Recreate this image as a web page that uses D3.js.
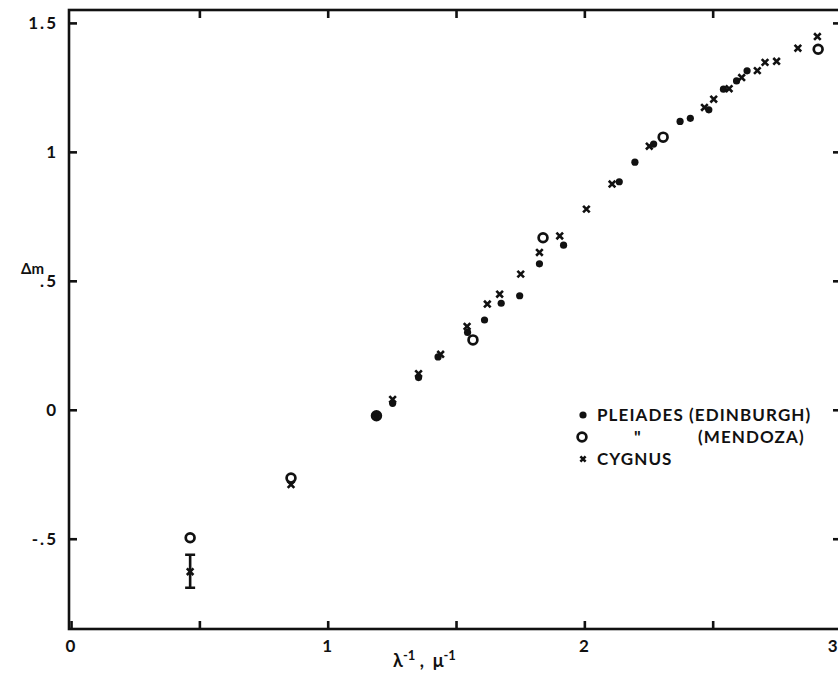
<!DOCTYPE html>
<html>
<head>
<meta charset="utf-8">
<script src="https://cdn.jsdelivr.net/npm/d3@7"></script>
<style>
  html, body { margin: 0; padding: 0; background: #fff; }
  svg { display: block; }
  text { font-family: Lato, "Open Sans", sans-serif; font-weight: 700; fill: #111; }
</style>
</head>
<body>
<svg id="chart" width="838" height="673"></svg>
<script>
// Pleiades, Edinburgh photometry (filled dots)
const edinburghX = [1.19, 1.253, 1.354, 1.43, 1.545, 1.611, 1.676, 1.748, 1.825, 1.919, 2.136, 2.197, 2.27, 2.373, 2.413, 2.485, 2.542, 2.593, 2.634];
const edinburghY = [-0.023, 0.025, 0.125, 0.205, 0.30, 0.348, 0.413, 0.442, 0.566, 0.638, 0.884, 0.96, 1.03, 1.118, 1.13, 1.163, 1.243, 1.275, 1.314];

// Pleiades, Mendoza photometry (open circles)
const mendozaX = [0.464, 0.857, 1.19, 1.566, 1.839, 2.307, 2.911];
const mendozaY = [-0.496, -0.265, -0.023, 0.271, 0.667, 1.057, 1.398];

// Cygnus (crosses)
const cygnusX = [0.464, 0.857, 1.253, 1.354, 1.44, 1.543, 1.622, 1.67, 1.752, 1.825, 1.904, 2.008, 2.108, 2.253, 2.468, 2.504, 2.564, 2.613, 2.674, 2.704, 2.749, 2.832, 2.908];
const cygnusY = [-0.628, -0.29, 0.04, 0.14, 0.215, 0.323, 0.41, 0.448, 0.526, 0.61, 0.674, 0.778, 0.875, 1.022, 1.172, 1.204, 1.245, 1.288, 1.315, 1.347, 1.351, 1.402, 1.447];

// Uncertainty on the shortest-wavenumber Cygnus point
const cygnusErrX = [0.464];
const cygnusErrLow = [-0.69];
const cygnusErrHigh = [-0.562];

const xTickValues = [0, 0.5, 1, 1.5, 2, 2.5, 3];
const xTickLabels = ["0", "", "1", "", "2", "", "3"];
const yTickValues = [-0.5, 0, 0.5, 1, 1.5];
const yTickLabels = ["-.5", "0", ".5", "1", "1.5"];

const legendLabels = ["PLEIADES (EDINBURGH)", "\"", "(MENDOZA)", "CYGNUS"];
const xTitle = ["λ", "-1", " ,  μ", "-1"];
const yTitle = "Δm";

const svg = d3.select("#chart");

const x = d3.scaleLinear().domain([-0.008, 3.0]).range([69, 841]);
const y = d3.scaleLinear().domain([-0.85, 1.55]).range([629, 10]);

const ink = "#111";
const axisW = 2.6;

// Frame
svg.append("rect")
  .attr("x", x.range()[0]).attr("y", y.range()[1])
  .attr("width", x.range()[1] - x.range()[0])
  .attr("height", y.range()[0] - y.range()[1])
  .attr("fill", "none").attr("stroke", ink).attr("stroke-width", axisW);

// Inward ticks on all four sides, labels on left and bottom
const tickLen = 8;
const xLabel = d => xTickLabels[xTickValues.indexOf(d)];
const yLabel = d => yTickLabels[yTickValues.indexOf(d)];

const axisBottomG = svg.append("g").attr("transform", `translate(0,${y.range()[0]})`)
  .call(d3.axisBottom(x).tickValues(xTickValues).tickFormat(xLabel).tickSizeInner(-tickLen).tickSizeOuter(0).tickPadding(9));
const axisTopG = svg.append("g").attr("transform", `translate(0,${y.range()[1]})`)
  .call(d3.axisTop(x).tickValues(xTickValues.filter(v => v > 0)).tickFormat("").tickSizeInner(-tickLen).tickSizeOuter(0));
const axisLeftG = svg.append("g").attr("transform", `translate(${x.range()[0]},0)`)
  .call(d3.axisLeft(y).tickValues(yTickValues).tickFormat(yLabel).tickSizeInner(-tickLen).tickSizeOuter(0).tickPadding(11));
const axisRightG = svg.append("g").attr("transform", `translate(${x.range()[1]},0)`)
  .call(d3.axisRight(y).tickValues(yTickValues).tickFormat("").tickSizeInner(-tickLen).tickSizeOuter(0));

[axisBottomG, axisTopG, axisLeftG, axisRightG].forEach(g => {
  g.select(".domain").remove();
  g.selectAll(".tick line").attr("stroke", ink).attr("stroke-width", 2.6);
  g.selectAll(".tick text").style("font-size", "17px").style("letter-spacing", "2px").attr("fill", ink);
});
axisBottomG.selectAll(".tick text").attr("dy", "0.85em");
// The last label sits at the page edge; pull it in so it stays readable
axisBottomG.selectAll(".tick text").filter(d => d === 3).attr("text-anchor", "end").attr("x", -2);

// Axis titles
const xt = svg.append("text").attr("x", 393).attr("y", 667).style("font-size", "18px").attr("xml:space", "preserve");
xt.append("tspan").text(xTitle[0]);
xt.append("tspan").attr("dy", -7).style("font-size", "13px").text(xTitle[1]);
xt.append("tspan").attr("dy", 7).text(xTitle[2]);
xt.append("tspan").attr("dy", -7).style("font-size", "13px").text(xTitle[3]);

svg.append("text").attr("x", 21).attr("y", 274).style("font-size", "15px").text(yTitle);

// Marker painters
const dotR = 3.6;
function dot(g, cx, cy) {
  g.append("circle").attr("cx", cx).attr("cy", cy).attr("r", dotR).attr("fill", ink);
}
function ring(g, cx, cy) {
  g.append("circle").attr("cx", cx).attr("cy", cy).attr("r", 4.4)
    .attr("fill", "none").attr("stroke", ink).attr("stroke-width", 2.7);
}
function cross(g, cx, cy, s = 3.3) {
  g.append("path")
    .attr("d", `M${cx - s},${cy - s}L${cx + s},${cy + s}M${cx + s},${cy - s}L${cx - s},${cy + s}`)
    .attr("stroke", ink).attr("stroke-width", 2.6).attr("fill", "none");
}

const marks = svg.append("g");

// Error bar
cygnusErrX.forEach((v, i) => {
  const cx = x(v), y0 = y(cygnusErrLow[i]), y1 = y(cygnusErrHigh[i]);
  marks.append("path")
    .attr("d", `M${cx},${y0}L${cx},${y1}M${cx - 5},${y0}L${cx + 5},${y0}M${cx - 5},${y1}L${cx + 5},${y1}`)
    .attr("stroke", ink).attr("stroke-width", 2.6).attr("fill", "none");
});

mendozaX.forEach((v, i) => ring(marks, x(v), y(mendozaY[i])));
edinburghX.forEach((v, i) => dot(marks, x(v), y(edinburghY[i])));
cygnusX.forEach((v, i) => cross(marks, x(v), y(cygnusY[i])));

// Legend
const lg = svg.append("g");
const lx = 583, ly = [415, 437, 459];
dot(lg, lx, ly[0]);
ring(lg, lx - 1, ly[1]);
cross(lg, lx, ly[2], 2.6);
const fs = "17px";
const ls = "1.1px";
lg.append("text").attr("x", 597).attr("y", ly[0] + 6).style("font-size", fs).style("letter-spacing", ls).text(legendLabels[0]);
lg.append("text").attr("x", 634).attr("y", ly[1] + 6).style("font-size", fs).text(legendLabels[1]);
lg.append("text").attr("x", 698).attr("y", ly[1] + 6).style("font-size", fs).style("letter-spacing", ls).text(legendLabels[2]);
lg.append("text").attr("x", 597).attr("y", ly[2] + 6).style("font-size", fs).style("letter-spacing", ls).text(legendLabels[3]);
</script>
</body>
</html>
